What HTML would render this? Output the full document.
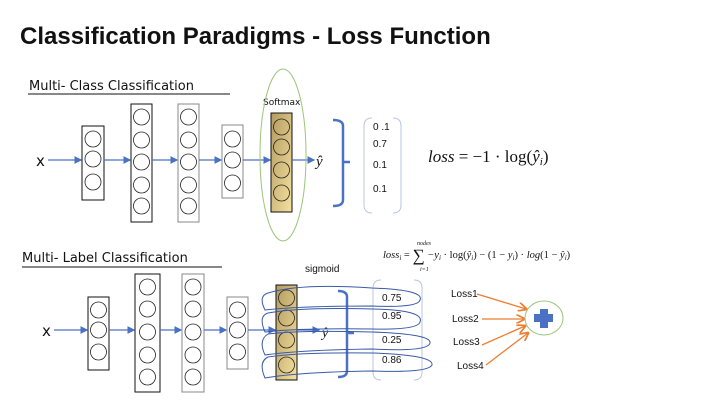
<!DOCTYPE html>
<html><head><meta charset="utf-8"><style>
html,body{margin:0;padding:0;background:#fff;}
svg{display:block;}
.hand{font-family:"Comic Sans MS","DejaVu Sans",sans-serif;}
.ser{font-family:"Liberation Serif",serif;font-style:italic;}
.sans{font-family:"Liberation Sans",sans-serif;}
</style></head><body>
<svg id="s" width="720" height="405" viewBox="0 0 720 405" xmlns="http://www.w3.org/2000/svg">
<defs>
<linearGradient id="gold" x1="0" y1="0" x2="1" y2="1"><stop offset="0" stop-color="#b39b5e"/><stop offset="1" stop-color="#f5e1a0"/></linearGradient>
<marker id="ab" markerWidth="6" markerHeight="6" refX="5" refY="3" orient="auto"><path d="M0,0 L6,3 L0,6 z" fill="#4a72c4"/></marker>
<marker id="ao" markerWidth="7" markerHeight="7" refX="6" refY="3.5" orient="auto"><path d="M0,0 L7,3.5 L0,7" fill="none" stroke="#ed7d31" stroke-width="1.3"/></marker>
</defs>
<text x="20" y="44" class="sans" font-size="24" font-weight="bold" fill="#111">Classification Paradigms - Loss Function</text>

<text x="29" y="90" class="hand" font-size="13" fill="#111">Multi- Class Classification</text>
<line x1="28" y1="94" x2="230" y2="94" stroke="#111" stroke-width="1"/>
<text x="22" y="262" class="hand" font-size="13" fill="#111">Multi- Label Classification</text>
<line x1="22" y1="267" x2="222" y2="267" stroke="#111" stroke-width="1"/>

<g id="net"></g>

<text x="263" y="105" class="hand" font-size="9" fill="#111">Softmax</text>
<ellipse cx="283" cy="155" rx="23" ry="86" fill="none" stroke="#9cc57a" stroke-width="1"/>
<text x="316" y="166" class="ser" font-size="15" fill="#111">ŷ</text>
<path d="M333,120 Q343,120 343,126 L343,200 Q343,206 333,206 M343,162 L350,162" fill="none" stroke="#4a72c4" stroke-width="2.5"/>
<path d="M372,118 Q364,118 364,126 L364,205 Q364,213 372,213 M393,118 Q401,118 401,126 L401,205 Q401,213 393,213" fill="none" stroke="#b8c6e4" stroke-width="1"/>
<g class="sans" font-size="10" fill="#111">
<text x="373" y="130">0 .1</text><text x="373" y="147">0.7</text><text x="373" y="168">0.1</text><text x="373" y="192">0.1</text></g>
<text x="428" y="162" class="ser" font-size="17" fill="#111">loss <tspan font-style="normal">= −1 · log(</tspan>ŷ<tspan font-size="11" dy="3">i</tspan><tspan font-style="normal" dy="-3">)</tspan></text>

<text x="383" y="258" class="ser" font-size="10.5" fill="#111">loss<tspan font-size="7" dy="2">i</tspan><tspan dy="-2" font-style="normal"> = </tspan><tspan font-style="normal" font-size="17" dy="3">∑</tspan><tspan dy="-3"> −y</tspan><tspan font-size="7" dy="2">i</tspan><tspan dy="-2" font-style="normal"> · log(</tspan>ŷ<tspan font-size="7" dy="2">i</tspan><tspan dy="-2" font-style="normal">) − (1 − </tspan>y<tspan font-size="7" dy="2">i</tspan><tspan dy="-2" font-style="normal">) · </tspan>log<tspan font-style="normal">(1 − </tspan>ŷ<tspan font-size="7" dy="2">i</tspan><tspan dy="-2" font-style="normal">)</tspan></text>
<text x="417" y="245" class="ser" font-size="6" fill="#111">nodes</text>
<text x="420" y="271" class="ser" font-size="6" fill="#111">i=1</text>

<text x="305" y="272" class="sans" font-size="10" fill="#111">sigmoid</text>
<text x="322" y="337" class="ser" font-size="14" fill="#111">ŷ</text>
<path d="M338,291 Q347,291 347,297 L347,371 Q347,377 338,377 M347,333 L354,333" fill="none" stroke="#4a72c4" stroke-width="2.5"/>
<path d="M381,280 Q373,280 373,288 L373,372 Q373,380 381,380 M414,280 Q422,280 422,288 L422,372 Q422,380 414,380" fill="none" stroke="#b8c6e4" stroke-width="1"/>
<g fill="none" stroke="#3a5aa8" stroke-width="1">
<path d="M268,293 Q300,283 372,288 Q425,290 420,300 Q418,308 372,306 Q300,306 265,310 Q258,296 268,293"/>
<path d="M268,313 Q300,307 372,309 Q425,310 420,322 Q418,330 372,329 Q300,328 265,332 Q258,316 268,313"/>
<path d="M268,334 Q300,330 372,332 Q432,334 430,343 Q428,352 372,349 Q300,350 265,355 Q258,340 268,334"/>
<path d="M268,357 Q300,352 372,353 Q434,355 432,365 Q428,373 372,371 Q300,372 265,378 Q258,362 268,357"/>
</g>
<g class="sans" font-size="10" fill="#111">
<text x="382" y="301">0.75</text><text x="382" y="319">0.95</text><text x="382" y="343">0.25</text><text x="382" y="363">0.86</text></g>

<g class="sans" font-size="10" fill="#111">
<text x="451" y="297">Loss1</text><text x="452" y="322">Loss2</text><text x="453" y="345">Loss3</text><text x="457" y="369">Loss4</text></g>
<g stroke="#ed7d31" stroke-width="1.3" marker-end="url(#ao)">
<line x1="477" y1="294" x2="526" y2="309"/><line x1="482" y1="319" x2="524" y2="319"/>
<line x1="482" y1="345" x2="525" y2="326"/><line x1="486" y1="365" x2="528" y2="333"/></g>
<ellipse cx="544" cy="318" rx="19" ry="17" fill="none" stroke="#9cc57a" stroke-width="1"/>
<path d="M540,309 h8 v5 h5 v8 h-5 v6 h-8 v-6 h-6 v-8 h6 z" fill="#4a72c4"/>
</svg>
<script>
const topLayers=[[82,104,126,200,[139,159,182]],[131,152,104,222,[117,140,162,185,206]],[178,199,104,222,[117,140,162,185,206]],[222,243,125,198,[139,160,183]]];
const botLayers=[[88,109,297,370,[310,330,352]],[135,160,274,392,[287,309,332,355,377]],[182,204,274,392,[287,309,332,355,377]],[227,248,297,369,[310,330,352]]];
const NS="http://www.w3.org/2000/svg";
const g=document.getElementById('net');
function mk(t,a){const e=document.createElementNS(NS,t);for(const k in a)e.setAttribute(k,a[k]);g.appendChild(e);return e;}
function net(layers,out,ay,xl,xlY,pre){
  const xt=mk('text',{x:xl,y:xlY,'font-family':'DejaVu Sans,sans-serif','font-size':'15',fill:'#111'});xt.textContent='x';
  
  
  let prev=xl+12;
  layers.concat([out]).forEach((L,i)=>{
    const a=mk('line',{x1:prev,y1:ay,x2:L[0]-1,y2:ay,stroke:'#4a72c4','stroke-width':1.3,'marker-end':'url(#ab)'});
    
    
    const isOut=i===layers.length;
    const r=mk('rect',{x:L[0],y:L[2],width:L[1]-L[0],height:L[3]-L[2],fill:isOut?'url(#gold)':'#fff',stroke:i==2||i==3?'#888':'#111','stroke-width':1});
    
    
    L[4].forEach(cy=>{const c=mk('circle',{cx:(L[0]+L[1])/2,cy:cy,r:8,fill:'none',stroke:'#222','stroke-width':0.8});
      
      });
    prev=L[1];
  });
  const a=mk('line',{x1:prev,y1:ay,x2:prev+22,y2:ay,stroke:'#4a72c4','stroke-width':1.3,'marker-end':'url(#ab)'});
  
  
}
net(topLayers,[271,292,113,212,[127,147,170,193]],160,36,166,'top');
net(botLayers,[276,297,285,380,[298,318,340,365]],330,42,336,'bottom');
</script>
</body></html>
